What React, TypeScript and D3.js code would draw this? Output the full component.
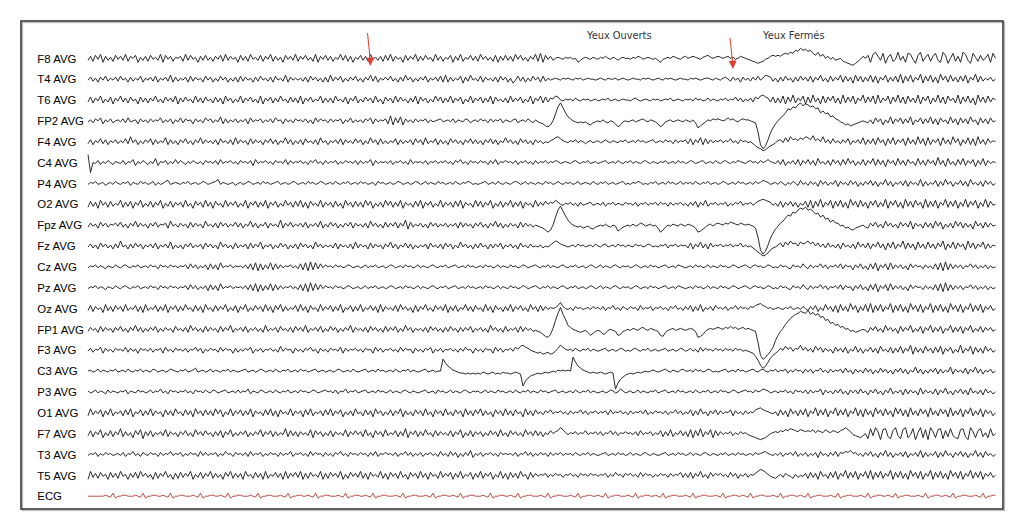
import React from 'react';
import * as d3 from 'd3';

const CHANNELS = [
  'F8 AVG', 'T4 AVG', 'T6 AVG', 'FP2 AVG', 'F4 AVG', 'C4 AVG', 'P4 AVG', 'O2 AVG',
  'Fpz AVG', 'Fz AVG', 'Cz AVG', 'Pz AVG', 'Oz AVG', 'FP1 AVG', 'F3 AVG', 'C3 AVG',
  'P3 AVG', 'O1 AVG', 'F7 AVG', 'T3 AVG', 'T5 AVG', 'ECG',
];

// Samples encoded as characters: index in ALPHABET minus 31 = amplitude (up positive).
const ALPHABET = '0123456789ABCDEFGHIJKLMNOPQRSTUVWXYZabcdefghijklmnopqrstuvwxyz';
const N_SAMPLES = 364;

const F8 = 'TXSYUZRXTWSY UXTZSXVYRWTX SYUWTZRYUXSW VXSZTYUWRXTY TWSXUYSZTXUW RYTXSZUWTYSX UZSXTWRYUXTZ SXUYTWSZRXUY TXSWUZTYSXRW UYTXSZUWTXSY TZSXUWRYTXUZ SXTYUWSZTXSW UYRXTZSWUYTX SZUXTWSYRXTY TXSZUYTWSXUZ SaRYUXTVWVUW VWUVRTVWVUWV UWVXVUWVTVWV VUWVXWUVWVUV TRUVWVXWVUWX VWXWVUWXYWVW XWVWXVWUVXWV UTSRQRSUVXYX YXZaZbadcfde cdaYbXZVXUWT UVSRQPOQSUXV YRZbXTaQWZSU bTXRaZUQYbSW ZSXaTRbYQVaS XRbZTQaWSYTV ZRaV';
const T4 = 'UXTWSXUYTWUX TYUWSXTWUYSW UXTYSWUXTZSX TWUXSYTXUWSY UXSWTYUXSWTX SYTXUWSXTYUW TXSYUWTZSXUW UWTXSYUXTWSX SZTXUYSWTXUY TWSXUZTYSWUX UYTWSXTZUXSW TXUYSWUXTYSZ SXTWUYRXTZUW TYSXUWTXSYUX SWRUYTXSWTYU XSYTWUVWVUWV WVUWVWUVWVVU VWVUWVVWUVWV UVWVVUWVWVUV WVUWVWVUVWVV UWVWVUVWWVUW VUWXVTXUWSXU WTXUYUWZYXTW SXTYUWSXTYUX TYSXUZTWSYTX UZSYTXRZTYSX TZSYRXUZSXTY SaRYTZSXUaRY TZSXRaUYSZTX SYTZRXUaSYTW UXTV';
const T6 = 'TYSXUZSWTYRX UZTXSYUWRYTX SXUZTWSYUXTZ RXTYUWSZTXSY UWSYTXRZUXSW TZSXUYTWSZRX UYSXTZUWSYTX SZRXUYTWUZSX TXSZUWTYRXUZ SWTYUXSZTWRY UXSZTYUWSXTZ RYUXSWTZUYSX TZSXUYRWTZSX UYSXTZRYUWTX SZTXUYSWTZRX UZSYTXWZYVUW VWUXVUWVWUVW UVWVXUVWUVWV VUWXVUVWVUWV WUVWVXUVWVUW VWUXVWUVXUWV UWVXUWVYUXTW UXTYWZaYXTYS XSZRYTaSXUZR YSaTXRZSYUZS XRaSYTZRXUaS YTZRaSXUZRYT aSYRZTXSaRYU ZRXTaSYRZUXS aRYTZSXQaTYS ZTXV';
const FP2 = 'UWTXVYSWUXTV WUXTYUVWSXUW TXUWVYTWUXSW UYTXVWSXUWTY VXTWUZSXTWUX TWUXSYUWVXTW UXTYVWSXUWTX VWUXTWSYUXVW TXUWVXSWUYTW UWTXVYSXUWVX SaRYTZRXUWTX UWVXTWUVWXUV WUXTWVUXWTVW UXVWTXUWVXTW VUWXTVWUXVTW UTSQPRVcjnid ZXVUTUTUSRTU VUWUTVUSPRUV UVWUVWXVUWVU SPRUVWUVWVUW VUWTOQSUWVXW XWVWYWXVUWXW WVUTK736CJOS VYadhgjilnkm ljkhidfcdZaX WUTRSQRSTUVU TWSYUXRWTZSX UYSXTZRWUYSX TZSXRYUWSZTX RYTXSZUWRYTX SYUV';
const F4 = 'TXSWUYTXSWUX TWUYTaUXSWTX UYSXTWUZSXTW SXUYTWSXUZTX UWTXSYUWTXSZ TXUWSYTXUWSX UYTXSWUZTXSW TXSYUWTXSZUW SWUXTYSXUWTY UXSWTZUXSYTW TWUYSXTWUXSY UXSZTWUYSXTW SYUXTWSXUYTX TWSXUYTXSWUZ UXTWSYUXTWSX UWTVUWXZaYWV UWVXUWVTVWUV WUVXVUWVUWVX UVWUXVWUVWXU VWUXVWTXUWVX TYSXUZSYTXUW VXUWVYUWTXVW UVTRPOMNPRSU WXUZVaXYWZXa ZXbWYVaUXTYU WTXUYSWUXTZS XTYSZUXRYTZS XUYRZTXSaTYR ZSXUYRZTXSaU YRXTZSYRaTXS YUWV';
const C4 = 'dLVUXTWUXVTW VUXTWVYSWUXV TWUZSWVXTWUY UXVTWUXVUWTX VWUXTYUWVXUW TXVWUXSYUWVX UWTXVWUYTXUW VXUWTXVYUWTX UWVXTWUXVWUX TXUWVYSXUWVW UXTWVXUWTYUW VWUXTWVXUWVX UWTXVYUWTXVW UXVWTXUYTWVX VWUXTWVXUWTX UWVXUWVXWUVW VUWXVUWVXUVW UVWXUVWUXVUW VXUWVUWXVUWV UWVXUVWUXVWU VXWUVWXUVWUX VUWXVUWVXWVU WXVWUXVWYWVU XTYSWUXTYSXU YTXSZUWTXSYU XSYTZUXSWTYS XUZSYTXRYUXS ZTXSYUWSZTXS YUXSaTXRZTWS YTZSXUYRXTZS XUWV';
const P4 = 'UWVXUVWTVWUX VUWVXTWVUXVW UVXTWUVXYUVW VUWVXUVWUVXW UVWXZUWVUVWT VWUVXWUVWUXV WUVWXUVWUVXW UVWUXVWUVXWU VWUXVUWVXUVW UXVWUVWTXVWU VWUVXWUVWUVX WUVXUWVUXVWU VWUXVUWVXWUV UVWXUVWUXVUW VUWXWUVXUWVU WVUXVWUVXVUW VWUVXUVWVUXV UWVXUVWUVWXU VUWVXWUVUWVX UVWUXVWUVXUW VWUXVUWVXUVW UVXWUVWUXVWU VWUXVWYXWUVW UXVTWUXVTYUW TXUWSYUXTWUY SXUWTYUXSWTX UYTXSWUZTXSW UXTYSXUWTZSX TWUYSXTZUXSW UYTXSZUWTXSY UXTV';
const O2 = 'SYTXRZUXSYTW UZSXTYRXUZSW TYSXUZRWTYSX UXSZTWRYUXSZ TXRYUWSZTXUY SWTZRXUYSXTZ RXUYSWTZUXSY TZSXRYUWTZSX UXSYTWRZUXSY TXSZUYRWTXSZ UYSXTZRXUWSY TZRXUYSWTZSX UXSYTZRXUWSZ TYSXUZRWTYSX UZSXTYRXUWSZ TXUYVXWZXVUW VXUWTXUVWXUV WUXTWVXUWVUX VWUXTWVXUWVX UXVWTXUWVXUW TXUYSXUZTWVX UWVXTWUXVYUW VXUWYZaZYXUW TYSXUYTXSWUY SZRYTaSXUZRY TZSXRaUYSZTX RYUZSXTaRYUZ SXRaTYSZUXRa SYTZRXUaSYTZ RXTaSYUZRXTa SYUV';
const FPZ = 'TXUWSYUXTWVX UYTWSXUZTXUW SXUYTWVXSZUW TXUWSYTXUWSZ UWTXSYUXTWUY TXSWUZTXSWUY SXUWTaSXUYTW UXTYSWUXTZSW TYUXSWTXUYSX UWTXSZUXTWSY TXUYSXUaRYTW UXTWSYUXTWUX TWUXSYTXUWSX UYTWSXUZTXSW TXUWSYTXUWTV UTSQOQVdkoje aXVUTUSTUSRT UVUWUTVUPRTU VUWUVXWUVWUV SOQTVUWVUWVU WVUSOPRTVWUW XWVXWYXWVXWV WVUSJ625BINR UXZcfeihkmln kljghdfbcYaX XUVSTRQSTUVT SXUYTWSZUXTW SYUXTZRXUWSY TXSZUYRWTXSZ UYSXTWRZUXSY TXUV';
const FZ = 'UXTWSYUXTWSX TaUWSXTYUXSW UXTYSWUXTZSW TWSXUYTWUXSY UXTWSZUXTWSY TWUXSYTXUZSW UXSWTYUXSWTX SYUXTWSZUXTW UWTYSXUWTXSZ TXUWSYTXUWSX UZTXSWUYTXSW TWUXSYUWTXSY UXSWTZUXTWSX TYUWSXTXUYSW UXTWSYUWTXUV UWTVUWYaZXWV UVWUXVWUVWUX VUWXUVWUXVWU WVUXVWUVXWUV UWVXTWVXUWVW TYSXUZTXSYUW VXUWVXUWVYUW UVTRPNLMORTU WYUZWaXYVZXY aXZVYUXTYUWT XSYUWTXSZUXT YSXUZTXRYTZS XUaSYTXRZTXS ZTXSYUaRXTZS YUXRaTYSXUZS XTWV';
const CZ = 'UWVXUWVTWVUX VUWXVUWVXUVW UXVWTXVWUXVW UWVXTYUXTWUX SYTXSZUWVXUW VWUXTYSZRYSX TZSYTXUWVXUW TYSZRaSZTYUX VWUXVWUVXWUV WUVXUWVXUVWU VXWUVWUXVWUV XUWVUWXVUWVX UVWXUVWUXVWU VWUXVWUVXUWV UXVWUVXWUVWX VUWVXUWVUWXV UWVXUVWUVXWU VXUWVUWXVUWV WUVXWUVWUXVW UVWXUVWUXWVU VWUXVWUVXUWV UXVWUVXWUVWX VUWXVWUVXWUV UXVWUTXVWUYV TXUWVYUXTWVX UYTXVWSXUYTW SYTZRXUYSZTX UXTWSYUXVWTX UWTYSZRaSYTX UXTWVYUXTWUX TWUV';
const PZ = 'UWVXUWVTWVUX VUWXVUWVXUVW UXVWTXVWUXVW UWVXTYUXTWUX SYTXSZUWVXUW VWUXTYSZRYSX TZSYTXUWVXUW TYSZRaSZTYUX VWUXVWUVXWUV WUVXUWVXUVWU VXWUVWUXVWUV XUWVUWXVUWVX UVWXUVWUXVWU VWUXVWUVXUWV UXVWUVXWUVWX VUWVXUWVUWXV UWVXUVWUVXWU VXUWVUWXVUWV WUVXWUVWUXVW UVWXUVWUXWVU VWUXVWUVXUWV UXVWUVXWUVWX VUWXVWUVXWUV UXVWUTXVWUYV TXUWVYUXTWVX UYTXVWSXUYTW SYTZRXUYSZTX UXTWSYUXVWTX UWTYSZRaSYTX UXTWVYUXTWUX TWUV';
const OZ = 'TYSXUWRZTXSY UXSZTWUYSXRZ TWUYSXTZRXUY SXTZUWSYTXRZ UWSYTXUZSWTY RXUZSWTYUXSZ TXRYUZSXTWUY SZTXRYUWSZTX UYSXTZRWUYSX TZSWUYTXRZSX UWTYSZUXTWRY SXUZTWSYUXTZ RXTYSWUZTXSY UWSZTXRYUWSX TZSXUYTWSZUX SYTXUWVWYbXV UWTXVWUVWUXV WUXTWVYUWTXV UXVWTYUWVXTW VXUWTXVYUWTX UYSXTZSWUXTY VWUXTWVYUXVW UXWYZaYXVWUV WVUWVXUVWUXV TXUYSWTZUXSY RZTXSaUYRXTZ SaRYTZSXUaRY TZSXRaUYSZRX UaRYTZSXRaUY SZRXUaSYTZRX UYTV';
const FP1 = 'TXUWSYTXUWSX UYTWSXUZTXSW TXUYSWTXUWSY UWTXSZUXTWSY TXUWSYTXUZSW UXTYSWUXTWSZ TWUXSYUWTXSY UXTZSWUXTYSW TYUXSWTXUZSX UWTXSYUXTWSY TXUYSWTZUXSW UWTXSYUXTWSX TYUWSXTXUYSW UXTWSZUXTWSY TWUXSYTXUWTU TSQONQWelrkf ZXVUTSTUSPRT UTQRUVUTPQTU VUWVUWXVUWVU TPOSUVWUVWVU VWVTNOQTVWVW XWVXWYWXVWXV WVUTI51369DK PTWadgiklnml okmjlhiefbcZ aXYVWTUSTUVU SXUYTWSZUXTW RYTXUZSWTYRX UZSXTYRWUZSX TYRXUZSWTYSX UXTV';
const F3 = 'UXTWVYSXUWTX VWUYTXUWSXVW UXTWVXSYUWTX VWUXTWVYUXSW UXVWTYUXVWSX TWUXVYSWUXTW VXUWTZUXVWSX UWTXVYUWSXUW TXVWUYSXUWVX UWTXVWSYUXTW VXUWTYUXVWSX UWTXVYSWUXTW VXUWTXUYVWSX UWTXVWSYUXTW VXUYWZaYXVUT STRSTRSUXaYW VWUXVUWVXUWV UVWXUVWUVXWU VUWXVUWVXUVW UVWXUVWUVXWU VXUWTYUXVWUX VWUXVWUXVWUV UTSPLGDFJNQS UXVZWYUXWaVY UXTZVYTXUWSY UXTYSWUZTXSW UYTXSZUWTYSX TZSXUaRYTXSZ UXSYTZRXUYSW TaSXUZRYTXSZ UXTV';
const C3 = 'VWUVXUWVUWVX UVWUXVUWVXUW VUXWUVWUVXWV UWVXUVWYUVWU VXUWVUWVXUWV UVWXUVWUVXWU VWUXVUWVXUVW UXVWUVWXUVWU VWUVXWUVWUXV UVWXUVWUXVWU VWUXVUWVXUWV UVWXUVWUVVhd aYWVUTTSTSTS TSUTSTUSTSUT TSTUTSGLOQRS TSTUTUVUWVWV WVjeaYWVUTUT TUTSTUTDJNPR STSTUTUVUVWV UVWXVUWVUWXV VWUXVWUVXWUV UVWXUVWUXVWU VWXVUWXVUWVX UWVXTWUXVWTX UXTWVYUWTXUW VXTYUWSXUWTY UXSWTYUXTWSX UYTXSWUZTXSW TXUYSXTWUZSX UWTYSXUZTXSW UXTV';
const P3 = 'WUVXUWVTXUWV UWVXTWVUXVWU VXUWVYUWTXVW UWVXUWTXVWUX VUXWUVWXUVWU XUWVYTWVUXWU VWUXVUWVXUVW UXVWUVXWUVWX VWUXTWVYUWVX UVWXUVWUXVWU VXUWVUWXVUWV UVWXUVWTXVWU VXUWVUWXVUWV WUVXUWVUXVWU VWUXVUWVXUWV UXVWUVWXUVWU VWUXVUWVXUWV UVWUVXWUVYWU VWUVXUWVUWVX UVWXUVWUXVWU VWUXVUWVXUVW UXVWUVXWUVWX VWUXVWYXWUVW UWVXUWTXVWUX TXUWVYSXUWTX UYTWSXUXTYUW SXUYTWSXUZTW UXSYTXUWSZTX UWTYSXUZTWSX UYTXSZUWTXSY UWTV';
const O1 = 'SZTXUYRXTZSW UXSYTZRWUYSX TZSXUWRYTXSZ UWSYTXRZUXSY TXSZUYRWTZSX UYSXTZRXUWSY TZSXRYUWTZSX UXRYTZSWUXSY TZSXUYRWTXSZ UWSYTXRZUXSW TYSXUZRXTWSY UXSZTWRYUXSZ TWSYUXRZTXSY UZSXTWRYUXSZ TXSYUWRZTXSY UWTXVYUWVXUW TXUWVYUXTWVX UWVXTYUWVXUW TXUWVXUYTWUX VWUXTWVYUXTW UYSXTZUWSXUY TXUWVYSXUWTX UWVYZaYXWVUW SYTXRZUXSYTZ RXUaSYTZRXUa SYTZRXUaSYRZ TXRaUYSZTXRa UZSYRaTXSZUY RaTXSZUYRaSX TZRYUaSXTZRY UXSV';
const F7 = 'TYSXUZRWTYSX UaSXTWRYUZQX TYSWUXTZSXUW SXUYTWSZUXTY UWSXTYRXUZSW TXUYSWTXUZSX UYSXTWUaSYTX SXUWTZRYUXSW TYSXUWTZSXUY UXSZTWRYUXSZ TWUYSXTaRXUY SXTZUWSYTXUW TYSXUZRWTYSX UXSWTYUXSZTW SYUXTWSZUXTY TXSWUYVXYbZW UWVXUWVYUWVX UXTWVYUXTWVX VWUXTYUWVXTW UYSXTZSWUYTX SZRYTaSXUZRY TXUWVXTWUXVW UTSRQPQRTVWX WYXZYaZYXZYX YXZWYXWZXWYX WYZbZXUTSRTV QaTbXPZaSQYb TQZbRUaPWbRZ PbXRZaQYSaTR QZaSPbXRYaSW RaTV';
const T3 = 'UWVXTWUXVWUV WUXTWVYUWTXV UXVWTXUWVYUW VXTWUXVWTYUX UWVXTWUYVWTX VWUXTYUWVXTW UXVWTXUWVYTW VXUWTYUXVWTX UWTXVYUWTXVW UXVWTXUYTWVX VWUXTWVYUXTW UXTWVXUWTYUW TYUXSWTXUZSW UXTWVXUWTXVW VWUXTWVYUXTW UXVWTXUWVXUW VWUXVUWVXUWV UVWXUVWUXVWU VXUWVUWXVUWV UVWXUVWUXVWU VXUWVUWXVUWV UWVXUVWUXVWU VWUXVWXYWVUW UXTWVXUYTWUX TWUXSYUWTXUY TXWYXZWXUWTX UYTWSXUZTXSW UXTYSWUXTZSX TWUYSXTZUWSX UYTXSWUZTXSY UWTV';
const T5 = 'RZTXSYUWRYTX SZUWRXTYSZUX TWRYSXUZTWRX SYTXUZRWTYSX UZSXTWRYUZSX TXRZUWSYTXRZ SWUYTXRZSXUY TZRXSYUWTZRX SYUXTZRWSYUX TZSXRYUWTZSX RYUXSZTWRYUX SZTXRYUWSZTX UYRXTZSWUYRX TZSXUYRWTZSX RYTXSZUWRYTX UWVXTWUXVWTW VXUWTXVWUXVW UWVXTWUYVWTX VXUWTYUXVWTW UXVWTXUWVYTX TYSXUZTWSYUX VXUWTYUXSWUX TWVXZbaYWUTS UWTXVUSWTVUX SYTXRZUWSYTZ RXUaSYTZRXUZ SaRYTZSXUaRY TZSXRaUYSZRX UaRYTZSXRaUY SZRXUaSYTZRX UYTV';
const ECG = 'VVVVVVVWVUYT VVWWVVVWVUYT VVWWVVWVUYTV VWWVVVWVUYTV VWWVVWVUYTVV WWVVVWVUYTVV WWVVVWVUYTVV WWVVWVUYTVVW WVVVWVUYTVVW WVVWVUYTVVWW VVVWVUYTVVWW VVVWVUYTVVWW VVWVUYTVVWWV VVWVUYTVVWWV VWVUYTVVWWVV VWVUYTVVWWVV VWVUYTVVWWVV WVUYTVVWWVVV WVUYTVVWWVVW VUYTVVWWVVVW VUYTVVWWVVVW VUYTVVWWVVWV UYTVVWWVVVWV UYTVVWWVVWVU YTVVWWVVVWVU YTVVWWVVVWVU YTVVWWVVWVUY TVVWWVVVWVUY TVVWWVVWVUYT VVWWVVVWVUYT VVWW';

const SERIES = [F8, T4, T6, FP2, F4, C4, P4, O2, FPZ, FZ, CZ, PZ, OZ, FP1, F3, C3, P3, O1, F7, T3, T5, ECG];

// Event annotations, positions in sample units
const ARROW_SAMPLES = [113, 258];
const EVENT_LABELS = ['Yeux Ouverts', 'Yeux Fermés'];
const EVENT_SAMPLES = [199.6, 270];

function decode(s: string): number[] {
  return s.replace(/\s+/g, '').split('').map((c) => ALPHABET.indexOf(c) - 31);
}

export default function App() {
  const W = 1024;
  const H = 531;
  const x = d3.scaleLinear().domain([0, N_SAMPLES - 1]).range([88, 995.5]);
  const rowY = d3.scalePoint<string>().domain(CHANNELS).range([58.3, 496.2]);

  return (
    <svg width={W} height={H} style={{ position: 'absolute', left: 0, top: 0, background: '#fff' }}>
      <rect x={0} y={0} width={W} height={H} fill="#fff" />
      <rect x={22.5} y={22.5} width={982} height={488} fill="none" stroke="#b8b8b8" strokeWidth={1.2} />
      <rect x={21} y={21} width={982} height={488} fill="none" stroke="#3a3a3a" strokeWidth={1.6} />

      {CHANNELS.map((ch, ci) => {
        const y0 = rowY(ch) as number;
        const amp = d3.scaleLinear().domain([-31, 31]).range([y0 + 31, y0 - 31]);
        const values = decode(SERIES[ci]);
        const line = d3
          .line<number>()
          .x((_, i) => x(i))
          .y((v) => amp(v));
        const isEcg = ch === 'ECG';
        return (
          <g key={ch}>
            <text
              x={37.3}
              y={y0 + 4.2}
              fontFamily="'Liberation Sans', Arial, sans-serif"
              fontSize={11.4}
              fill="#000"
            >
              {ch}
            </text>
            <path
              d={line(values) || ''}
              fill="none"
              stroke={isEcg ? '#b03a36' : '#202020'}
              strokeWidth={isEcg ? 0.9 : 0.95}
              strokeLinejoin="round"
            />
          </g>
        );
      })}

      {EVENT_LABELS.map((lab, i) => (
        <text
          key={lab}
          x={x(EVENT_SAMPLES[i])}
          y={39}
          fontFamily="'DejaVu Sans', sans-serif"
          fontSize={9.8}
          fill="#333"
        >
          {lab}
        </text>
      ))}

      {ARROW_SAMPLES.map((s, i) => {
        const tx = x(s);
        const top = i === 0 ? 33 : 38;
        const tip = i === 0 ? 66 : 69;
        return (
          <g key={'arrow' + i}>
            <line x1={tx - 3} y1={top} x2={tx - 0.4} y2={tip - 7} stroke="#d9402e" strokeWidth={1} />
            <polygon
              points={`${tx},${tip} ${tx - 4.2},${tip - 8} ${tx + 3.6},${tip - 8.6}`}
              fill="#d9402e"
            />
          </g>
        );
      })}
    </svg>
  );
}
